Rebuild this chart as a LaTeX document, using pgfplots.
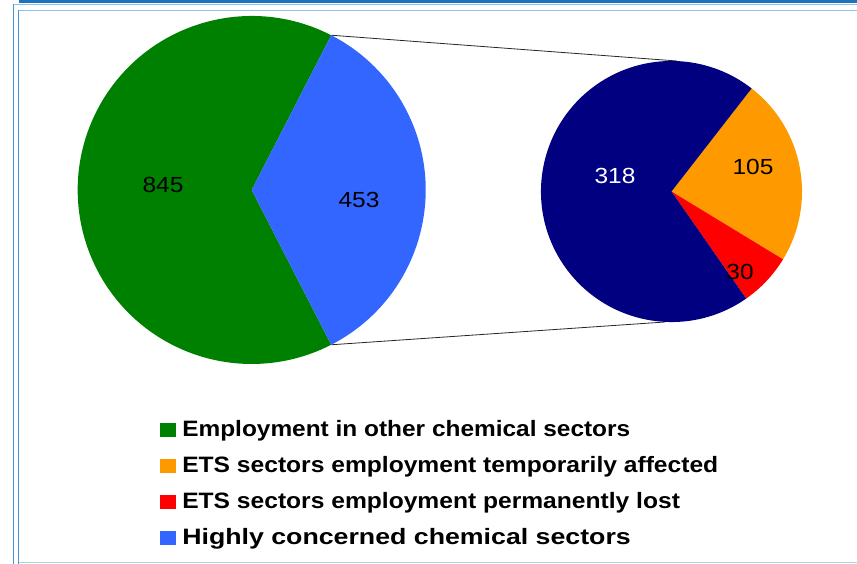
\documentclass[border=0pt]{standalone}
\usepackage{pgfplots}
\pgfplotsset{compat=1.18}
\usepackage{fontspec}
\setmainfont{Liberation Sans}
\definecolor{cGreen}{RGB}{0,128,0}
\definecolor{cBlue}{RGB}{51,102,255}
\definecolor{cNavy}{RGB}{0,0,128}
\definecolor{cOrange}{RGB}{255,153,0}
\definecolor{cRed}{RGB}{255,0,0}
\definecolor{frameDark}{RGB}{30,115,190}
\definecolor{frameMid}{RGB}{70,150,210}
\definecolor{frameLight}{RGB}{140,196,236}
\definecolor{frameTeal}{RGB}{168,216,220}
% data
\def\vOther{845}
\def\vHigh{453}
\def\vTemp{105}
\def\vLost{30}
\def\vRest{318}
\begin{document}
\begin{tikzpicture}
\useasboundingbox (0,0) rectangle (642.75pt,423pt);
\pgfmathsetmacro{\totL}{\vOther+\vHigh}
\pgfmathsetmacro{\hB}{\vHigh/\totL*180}
\pgfmathsetmacro{\gEnd}{360-\hB}
\pgfmathsetmacro{\totR}{\vTemp+\vLost+\vRest}
\pgfmathsetmacro{\aO}{\vTemp/\totR*360}
\pgfmathsetmacro{\aR}{\vLost/\totR*360}
\pgfmathsetmacro{\sO}{-1.5+(\aO+\aR)/2}
\pgfmathsetmacro{\eO}{\sO-\aO}
\pgfmathsetmacro{\eR}{\eO-\aR}
\pgfmathsetmacro{\eN}{\sO-360}
\begin{axis}[x=0.75pt,y=0.75pt,xmin=0,xmax=857,ymin=0,ymax=564,
  hide axis,clip=false,scale only axis,at={(0,0)},anchor=south west]
% frame
\fill[frameDark] (axis cs:19,561) rectangle (axis cs:857,564);
\draw[frameLight,line width=0.9pt] (axis cs:13.5,559.5) -- (axis cs:857,559.5);
\draw[frameMid,line width=0.9pt] (axis cs:13.5,559.5) -- (axis cs:13.5,0);
\draw[frameLight,line width=0.9pt] (axis cs:18.8,553.5) -- (axis cs:857,553.5);
\draw[frameMid,line width=0.9pt] (axis cs:18.8,553.5) -- (axis cs:18.8,0);
\draw[frameTeal,line width=0.9pt] (axis cs:18.8,1.5) -- (axis cs:857,1.5);
% connectors
\draw[black!85,line width=0.6pt] (axis cs:251.7,374) ++(\hB:130.5pt) -- (axis cs:677,503);
\draw[black!85,line width=0.6pt] (axis cs:251.7,374) ++(-\hB:130.5pt) -- (axis cs:665,242);
% left pie
\fill[cGreen] (axis cs:251.7,374) -- ++(\hB:130.5pt) arc[start angle=\hB,end angle=\gEnd,radius=130.5pt] -- cycle;
\fill[cBlue] (axis cs:251.7,374) -- ++(-\hB:130.5pt) arc[start angle=-\hB,end angle=\hB,radius=130.5pt] -- cycle;
% right pie
\fill[cOrange] (axis cs:671.5,372.5) -- ++(\sO:97.9pt) arc[start angle=\sO,end angle=\eO,radius=97.9pt] -- cycle;
\fill[cRed] (axis cs:671.5,372.5) -- ++(\eO:97.9pt) arc[start angle=\eO,end angle=\eR,radius=97.9pt] -- cycle;
\fill[cNavy] (axis cs:671.5,372.5) -- ++(\eR:97.9pt) arc[start angle=\eR,end angle=\eN,radius=97.9pt] -- cycle;
% labels
\begin{scope}[every node/.style={font=\fontsize{16.4pt}{19pt}\selectfont,xscale=1.12}]
\node at (axis cs:163,379) {845};
\node at (axis cs:359,364) {453};
\node[text=white] at (axis cs:615,388) {318};
\node at (axis cs:753,397) {105};
\node at (axis cs:740,292) {30};
\end{scope}
% legend
\fill[cGreen] (axis cs:160,127) rectangle (axis cs:176,141);
\fill[cOrange] (axis cs:160,91) rectangle (axis cs:176,105);
\fill[cRed] (axis cs:160,55) rectangle (axis cs:176,69);
\fill[cBlue] (axis cs:160,19) rectangle (axis cs:176,33);
\begin{scope}[every node/.style={font=\bfseries\fontsize{16.7pt}{20pt}\selectfont,inner sep=0pt,anchor=base west}]
\node[xscale=1.097] at (axis cs:182,127) {Employment in other chemical sectors};
\node[xscale=1.105] at (axis cs:182,91) {ETS sectors employment temporarily affected};
\node[xscale=1.105] at (axis cs:182,55) {ETS sectors employment permanently lost};
\node[xscale=1.2] at (axis cs:182,19) {Highly concerned chemical sectors};
\end{scope}
\end{axis}
\end{tikzpicture}
\end{document}
